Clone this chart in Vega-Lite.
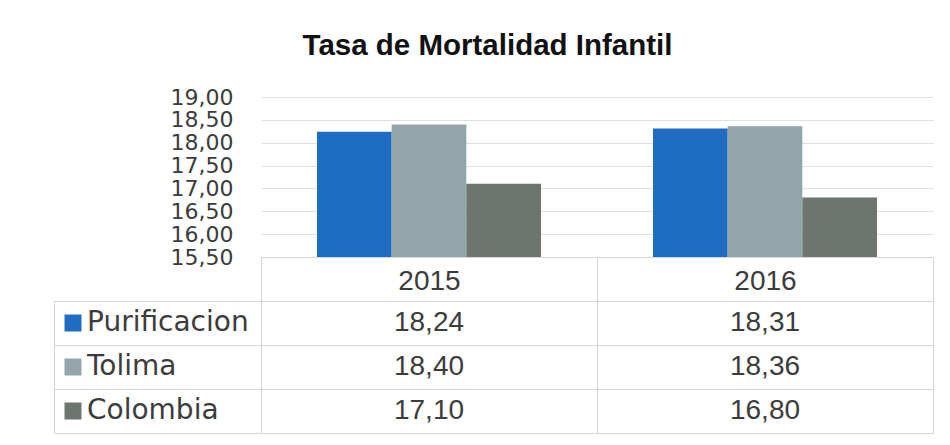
{
  "$schema": "https://vega.github.io/schema/vega-lite/v6.json",
  "padding": {"left": 53, "top": 30, "right": 10, "bottom": 5},
  "background": "white",
  "config": {
    "locale": {"number": {"decimal": ",", "thousands": ".", "grouping": [3], "currency": ["", ""]}},
    "font": "Liberation Sans"
  },
  "title": {"text": "Tasa de Mortalidad Infantil", "font": "Liberation Sans", "fontWeight": "bold", "fontSize": 29.5, "color": "#111111", "anchor": "middle", "offset": 25, "dx": -6},
  "datasets": {
    "tasa": [
      {"anio": "2015", "serie": "Purificacion", "valor": 18.24},
      {"anio": "2015", "serie": "Tolima", "valor": 18.40},
      {"anio": "2015", "serie": "Colombia", "valor": 17.10},
      {"anio": "2016", "serie": "Purificacion", "valor": 18.31},
      {"anio": "2016", "serie": "Tolima", "valor": 18.36},
      {"anio": "2016", "serie": "Colombia", "valor": 16.80}
    ]
  },
  "columns": 2,
  "spacing": {"row": 44, "column": 0},
  "bounds": "flush",
  "align": "each",
  "resolve": {"scale": {"color": "independent"}, "legend": {"color": "independent"}},
  "concat": [
    {
      "width": 207, "height": 160,
      "data": {"values": [{}]},
      "mark": {"type": "text"},
      "encoding": {"text": {"value": ""}},
      "view": {"stroke": null}
    },
    {
      "width": 672, "height": 160,
      "data": {"name": "tasa"},
      "mark": {"type": "bar", "clip": true},
      "view": {"stroke": null},
      "encoding": {
        "x": {"field": "anio", "type": "nominal",
          "scale": {"paddingInner": 0, "paddingOuter": 0},
          "axis": {"title": null, "labelAngle": 0, "labelFont": "Liberation Sans", "labelFontSize": 28, "labelColor": "#3c3c3c", "labelPadding": -34, "ticks": true, "tickBand": "extent", "tickSize": 44, "tickColor": "#d6d6d6", "domainColor": "#d6d6d6", "grid": false}},
        "xOffset": {"field": "serie", "type": "nominal", "sort": ["Purificacion", "Tolima", "Colombia"],
          "scale": {"paddingInner": 0, "paddingOuter": 0.75}},
        "y": {"field": "valor", "type": "quantitative",
          "scale": {"domain": [15.5, 19], "zero": false, "nice": false},
          "axis": {"title": null, "values": [15.5, 16, 16.5, 17, 17.5, 18, 18.5, 19], "format": ".2f", "labelOverlap": false, "labelFont": "DejaVu Sans", "labelFontSize": 22, "labelColor": "#3c3c3c", "labelPadding": 28, "ticks": false, "domain": false, "gridColor": "#e0e0e0"}},
        "color": {"field": "serie", "type": "nominal",
          "scale": {"domain": ["Purificacion", "Tolima", "Colombia"], "range": ["#1f6dc2", "#93a6ab", "#6d756f"]},
          "legend": null}
      }
    },
    {
      "width": 207, "height": 132,
      "data": {"name": "tasa"},
      "mark": {"type": "square", "opacity": 0},
      "view": {"stroke": "#d6d6d6"},
      "encoding": {
        "y": {"field": "serie", "type": "nominal", "sort": ["Purificacion", "Tolima", "Colombia"],
          "scale": {"type": "band", "paddingInner": 0, "paddingOuter": 0},
          "axis": {"title": null, "labels": false, "ticks": false, "domain": false, "grid": true, "bandPosition": 0, "gridColor": "#d6d6d6"}},
        "color": {"field": "serie", "type": "nominal",
          "scale": {"domain": ["Purificacion", "Tolima", "Colombia"], "range": ["#1f6dc2", "#93a6ab", "#6d756f"]},
          "legend": {"title": null, "orient": "none", "legendX": 5, "legendY": 8, "direction": "vertical", "symbolType": "square", "symbolSize": 289, "symbolOpacity": 1, "symbolStrokeWidth": 0, "labelOffset": 0, "labelLimit": 400, "labelFont": "DejaVu Sans", "labelFontSize": 28, "labelColor": "#3c3c3c", "rowPadding": 16, "padding": 0}}
      }
    },
    {
      "width": 672, "height": 132,
      "data": {"name": "tasa"},
      "mark": {"type": "text", "font": "Liberation Sans", "fontSize": 28, "color": "#3c3c3c"},
      "view": {"stroke": "#d6d6d6"},
      "encoding": {
        "x": {"field": "anio", "type": "nominal",
          "scale": {"type": "band", "paddingInner": 0, "paddingOuter": 0},
          "axis": {"title": null, "labels": false, "ticks": false, "domain": false, "grid": true, "bandPosition": 0, "gridColor": "#d6d6d6"}},
        "y": {"field": "serie", "type": "nominal", "sort": ["Purificacion", "Tolima", "Colombia"],
          "scale": {"type": "band", "paddingInner": 0, "paddingOuter": 0},
          "axis": {"title": null, "labels": false, "ticks": false, "domain": false, "grid": true, "bandPosition": 0, "gridColor": "#d6d6d6"}},
        "text": {"field": "valor", "type": "quantitative", "format": ".2f"}
      }
    }
  ]
}
